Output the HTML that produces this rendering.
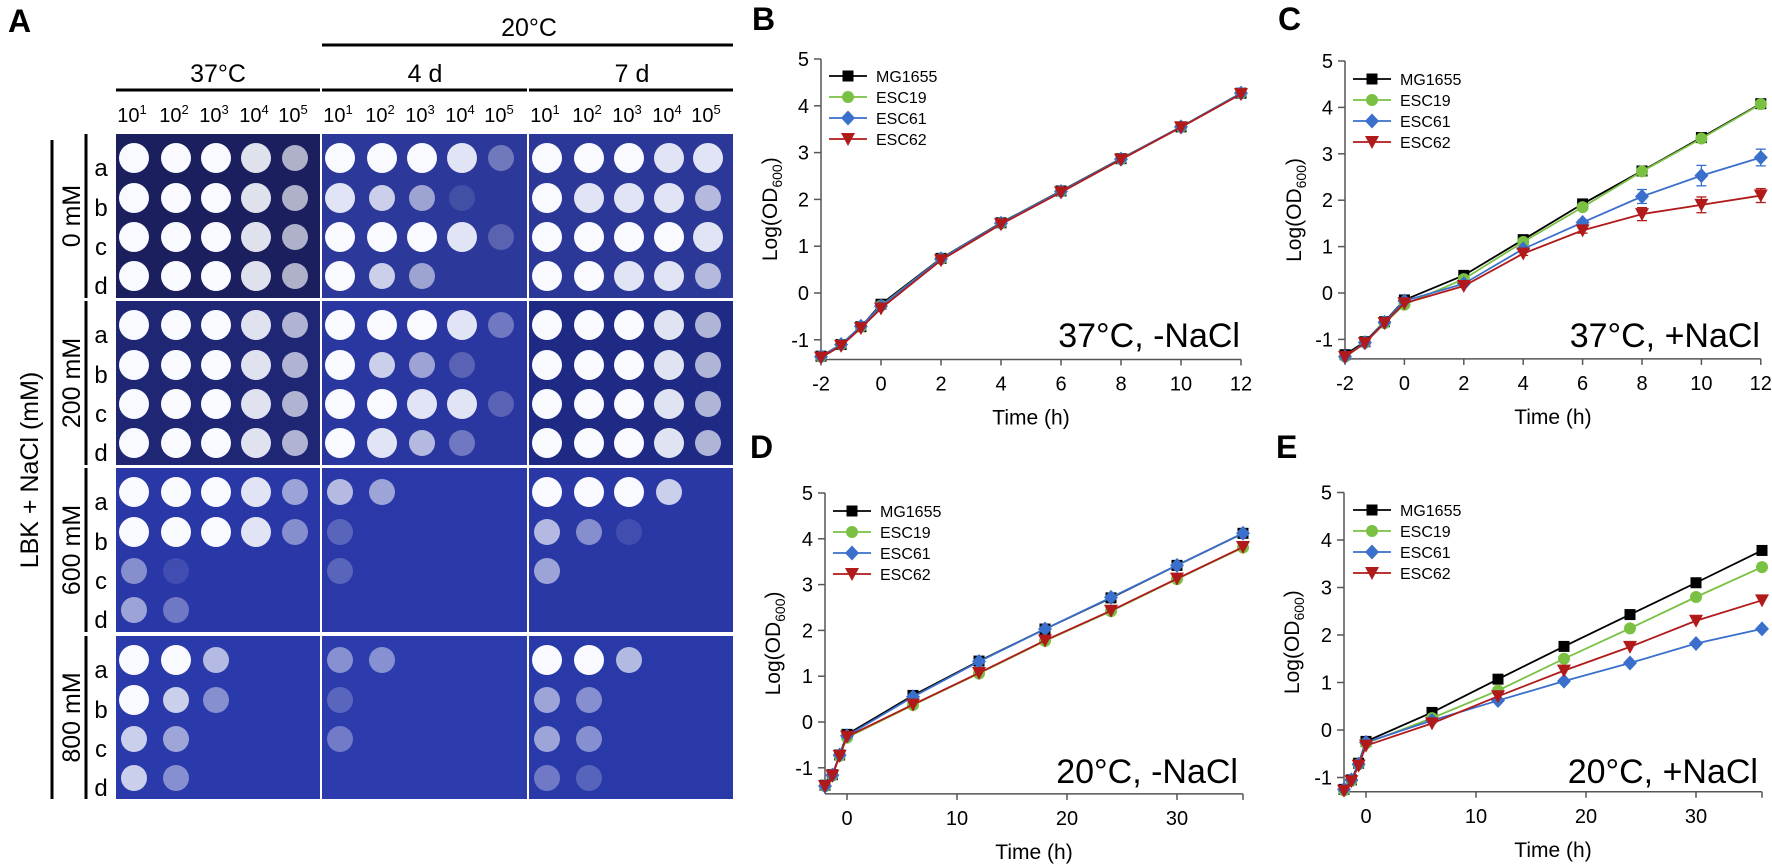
<!DOCTYPE html>
<html><head><meta charset="utf-8">
<style>
html,body{margin:0;padding:0;background:#fff;}
svg{display:block;font-family:"Liberation Sans",Arial,sans-serif;}
</style></head>
<body>
<svg id="fig" width="1772" height="866" viewBox="0 0 1772 866" xmlns="http://www.w3.org/2000/svg">
<g id="panelA">
<text x="8" y="32" font-size="32" font-weight="bold">A</text>
<text x="529" y="36" font-size="25" text-anchor="middle">20°C</text>
<line x1="322" y1="45" x2="733" y2="45" stroke="#000" stroke-width="3"/>
<text x="218" y="82" font-size="25" text-anchor="middle">37°C</text>
<text x="425" y="82" font-size="25" text-anchor="middle">4 d</text>
<text x="632" y="82" font-size="25" text-anchor="middle">7 d</text>
<line x1="116" y1="90" x2="320" y2="90" stroke="#000" stroke-width="3"/>
<line x1="322" y1="90" x2="527" y2="90" stroke="#000" stroke-width="3"/>
<line x1="529" y1="90" x2="733" y2="90" stroke="#000" stroke-width="3"/>
<text transform="translate(38,470) rotate(-90)" font-size="25" text-anchor="middle">LBK + NaCl (mM)</text>
<line x1="52" y1="140" x2="52" y2="799" stroke="#000" stroke-width="3"/>
</g>
<g id="charts"></g>
</svg>
<script>
const NS="http://www.w3.org/2000/svg";
const svg=document.getElementById('fig');
const gA=document.getElementById('panelA');
const gC=document.getElementById('charts');
function mk(tag,attrs,parent){const e=document.createElementNS(NS,tag);for(const k in attrs)e.setAttribute(k,attrs[k]);parent.appendChild(e);return e;}

// ---------- Panel A data ----------
const concLabels=["0 mM","200 mM","600 mM","800 mM"];
const conditions=["37c","4d","7d"];
const dilutions=["1","2","3","4","5"];
const strainRows=["a","b","c","d"];
const spot0mM=[["99986","99986","99986","99986"],["99983","87510","99982","97500"],["99988","98886","99998","99886"]];
const spot200mM=[["99986","99986","99986","99986"],["99983","97520","99882","98630"],["99986","99986","99986","99986"]];
const spot600mM=[["99985","99984","41000","53000"],["65000","20000","20000","00000"],["99970","64100","50000","00000"]];
const spot800mM=[["99600","97400","75000","74000"],["44000","20000","30000","00000"],["99600","54000","54000","32000"]];
const spotData=[spot0mM,spot200mM,spot600mM,spot800mM];
const plateBg=[["#1b1f5e","#2c389a","#2c3898"],["#1f2674","#2b37a0","#1e2a84"],["#2a37a6","#2b39a8","#2a38a6"],["#2b3aaa","#2d3cac","#2a39a8"]];

const plateX=[116,322,529], plateW=[204,205,204];
const plateY=[134,301,468,636], plateH=[164,164,164,163];
const spotDx=[18,60,100,140,179], spotDy=[24,64,103,142];

// dilution header
conditions.forEach((c,ci)=>{
  dilutions.forEach((d,di)=>{
    const t=mk('text',{x:plateX[ci]+spotDx[di]-2,y:122,'font-size':20,'text-anchor':'middle'},gA);
    
    
    t.textContent='10';
    const s=mk('tspan',{dy:-8,'font-size':13},t);s.textContent=d;
  });
});
function mix(hex,v){const r=parseInt(hex.slice(1,3),16),g=parseInt(hex.slice(3,5),16),b=parseInt(hex.slice(5,7),16);
  const f=v/9;return `rgb(${Math.round(r+(248-r)*f)},${Math.round(g+(250-g)*f)},${Math.round(b+(255-b)*f)})`;}
concLabels.forEach((cl,ri)=>{
  const y0=plateY[ri],h=plateH[ri];
  const br=mk('line',{x1:86,y1:y0,x2:86,y2:y0+h,stroke:'#000','stroke-width':3},gA);
  
  
  const lt=mk('text',{transform:`translate(80,${y0+h/2}) rotate(-90)`,'font-size':25,'text-anchor':'middle'},gA);
  
  
  lt.textContent=cl;
  strainRows.forEach((s,si)=>{
    const t=mk('text',{x:101,y:y0+spotDy[si]+18,'font-size':24,'text-anchor':'middle'},gA);
    
    
    t.textContent=s;
  });
  conditions.forEach((c,ci)=>{
    const p=mk('rect',{x:plateX[ci],y:y0,width:plateW[ci],height:h,fill:plateBg[ri][ci]},gA);
    
    
    spotData[ri][ci].forEach((row,si)=>{
      for(let di=0;di<5;di++){
        const v=+row[di]; if(v===0) continue;
        const c1=mk('circle',{cx:plateX[ci]+spotDx[di],cy:y0+spotDy[si],r:v>=8?15:13,fill:mix(plateBg[ri][ci],v)},gA);
        
        
      }
    });
  });
});

// ---------- Chart data ----------
const seriesNames=["MG1655","ESC19","ESC61","ESC62"];
const seriesColors=["#000000","#7ac143","#3a6fcc","#b01a1a"];
const markers=["square","circle","diamond","tri"];
const timeShort=[-2,-1.33,-0.67,0,2,4,6,8,10,12];
const timeLong=[-2,-1.33,-0.67,0,6,12,18,24,30,36];
const ticksShort=[-2,0,2,4,6,8,10,12];
const ticksLong=[0,10,20,30];
const yTicks=[-1,0,1,2,3,4,5];

const bMG=[-1.35,-1.1,-0.72,-0.24,0.74,1.5,2.18,2.87,3.55,4.27];
const b19=[-1.36,-1.1,-0.72,-0.27,0.73,1.49,2.17,2.86,3.55,4.27];
const b61=[-1.36,-1.1,-0.71,-0.28,0.73,1.49,2.17,2.86,3.55,4.27];
const b62=[-1.38,-1.13,-0.75,-0.33,0.7,1.47,2.15,2.85,3.54,4.25];

const cMG=[-1.33,-1.05,-0.62,-0.15,0.38,1.15,1.92,2.63,3.35,4.08];
const c19=[-1.37,-1.07,-0.65,-0.25,0.3,1.1,1.85,2.62,3.33,4.07];
const c61=[-1.37,-1.07,-0.63,-0.17,0.2,0.95,1.52,2.08,2.53,2.92];
const c62=[-1.38,-1.08,-0.65,-0.22,0.15,0.85,1.35,1.7,1.9,2.1];
const c61err=[0,0,0,0,0,0,0.05,0.15,0.22,0.18];
const c62err=[0,0,0,0,0,0.04,0.06,0.14,0.17,0.15];

const dMG=[-1.38,-1.15,-0.72,-0.27,0.58,1.33,2.03,2.71,3.42,4.12];
const d19=[-1.4,-1.17,-0.74,-0.34,0.37,1.06,1.77,2.42,3.12,3.81];
const d61=[-1.4,-1.16,-0.72,-0.3,0.55,1.32,2.03,2.72,3.42,4.12];
const d62=[-1.4,-1.17,-0.74,-0.32,0.38,1.07,1.78,2.43,3.13,3.82];

const eMG=[-1.25,-1.05,-0.7,-0.24,0.37,1.07,1.76,2.43,3.1,3.78];
const e19=[-1.27,-1.07,-0.72,-0.28,0.25,0.83,1.5,2.14,2.8,3.43];
const e61=[-1.25,-1.05,-0.72,-0.26,0.2,0.62,1.03,1.41,1.82,2.13];
const e62=[-1.28,-1.08,-0.75,-0.33,0.14,0.71,1.25,1.75,2.3,2.73];

const panels=[
 {id:'b',letter:'B',lx:752,ly:30,ax:821,xmin:-2,xmax:12,pxX:30,y0:293,pxY:46.8,ymin:-1.42,times:timeShort,ticks:ticksShort,series:[bMG,b19,b61,b62],err:null,legX:829,legY:76,title:'37°C, -NaCl',tx:1240,ty:347,ylx:770},
 {id:'c',letter:'C',lx:1278,ly:30,ax:1345,xmin:-2,xmax:12,pxX:29.7,y0:293,pxY:46.4,ymin:-1.42,times:timeShort,ticks:ticksShort,series:[cMG,c19,c61,c62],err:[null,null,c61err,c62err],legX:1353,legY:79,title:'37°C, +NaCl',tx:1760,ty:347,ylx:1294},
 {id:'d',letter:'D',lx:750,ly:458,ax:825,xmin:-2,xmax:36,pxX:11,y0:722,pxY:45.8,ymin:-1.57,times:timeLong,ticks:ticksLong,series:[dMG,d19,d61,d62],err:null,legX:833,legY:511,title:'20°C, -NaCl',tx:1238,ty:783,ylx:773},
 {id:'e',letter:'E',lx:1276,ly:458,ax:1344,xmin:-2,xmax:36,pxX:11,y0:730,pxY:47.5,ymin:-1.3,times:timeLong,ticks:ticksLong,series:[eMG,e19,e61,e62],err:null,legX:1353,legY:510,title:'20°C, +NaCl',tx:1758,ty:783,ylx:1292}
];

function marker(g,type,x,y,color){
  let e;
  if(type==='square') e=mk('rect',{x:x-5.5,y:y-5.5,width:11,height:11,fill:color},g);
  else if(type==='circle') e=mk('circle',{cx:x,cy:y,r:6,fill:color},g);
  else if(type==='diamond') e=mk('polygon',{points:`${x},${y-7.5} ${x+7},${y} ${x},${y+7.5} ${x-7},${y}`,fill:color},g);
  else e=mk('polygon',{points:`${x-7},${y-6} ${x+7},${y-6} ${x},${y+7}`,fill:color},g);
  return e;
}

panels.forEach(P=>{
  const g=mk('g',{},gC);
  
  
  const X=t=>P.ax+(t-P.xmin)*P.pxX;
  const Y=v=>P.y0-v*P.pxY;
  const axisY=Y(P.ymin), top=Y(5);
  const lt=mk('text',{x:P.lx,y:P.ly,'font-size':32,'font-weight':'bold'},g);
  
  
  lt.textContent=P.letter;
  const ya=mk('line',{x1:P.ax,y1:top,x2:P.ax,y2:axisY,stroke:'#555','stroke-width':1.5},g);
  
  
  const xa=mk('line',{x1:P.ax,y1:axisY,x2:X(P.xmax),y2:axisY,stroke:'#555','stroke-width':1.5},g);
  
  
  yTicks.forEach(v=>{
    mk('line',{x1:P.ax-7,y1:Y(v),x2:P.ax,y2:Y(v),stroke:'#555','stroke-width':1.5},g);
    const t=mk('text',{x:P.ax-12,y:Y(v)+7,'font-size':20,'text-anchor':'end'},g);
    
    
    t.textContent=v;
  });
  P.ticks.forEach(v=>{
    mk('line',{x1:X(v),y1:axisY,x2:X(v),y2:axisY+6,stroke:'#555','stroke-width':1.5},g);
    const t=mk('text',{x:X(v),y:axisY+31,'font-size':20,'text-anchor':'middle'},g);
    
    
    t.textContent=v;
  });
  if(P.ticks===ticksLong) mk('line',{x1:X(36),y1:axisY,x2:X(36),y2:axisY+6,stroke:'#555','stroke-width':1.5},g);
  const xt=mk('text',{x:(P.ax+X(P.xmax))/2,y:axisY+65,'font-size':21,'text-anchor':'middle'},g);
  
  
  xt.textContent='Time (h)';
  const yt=mk('text',{transform:`translate(${P.ylx+7},${(top+axisY)/2}) rotate(-90)`,'font-size':21,'text-anchor':'middle'},g);
  
  
  yt.textContent='Log(OD';
  const sub=mk('tspan',{dy:5,'font-size':14},yt);sub.textContent='600';
  const cl=mk('tspan',{dy:-5},yt);cl.textContent=')';
  const an=mk('text',{x:P.tx,y:P.ty,'font-size':34,'text-anchor':'end'},g);
  
  
  an.textContent=P.title;
  P.series.forEach((vals,si)=>{
    const sg=mk('g',{},g);
    
    
    const pts=vals.map((v,i)=>X(P.times[i])+','+Y(v)).join(' ');
    const pl=mk('polyline',{points:pts,fill:'none',stroke:seriesColors[si],'stroke-width':1.8},sg);
    
    
    if(P.err&&P.err[si]){
      P.err[si].forEach((e,i)=>{ if(!e) return;
        const x=X(P.times[i]),y1=Y(vals[i]+e),y2=Y(vals[i]-e);
        mk('line',{x1:x,y1:y1,x2:x,y2:y2,stroke:seriesColors[si],'stroke-width':1.3},sg);
        mk('line',{x1:x-5,y1:y1,x2:x+5,y2:y1,stroke:seriesColors[si],'stroke-width':1.3},sg);
        mk('line',{x1:x-5,y1:y2,x2:x+5,y2:y2,stroke:seriesColors[si],'stroke-width':1.3},sg);
      });
    }
    vals.forEach((v,i)=>{
      const m=marker(sg,markers[si],X(P.times[i]),Y(v),seriesColors[si]);
      
      
    });
    const ly=P.legY+si*21;
    const le=mk('g',{},g);
    
    
    mk('line',{x1:P.legX,y1:ly,x2:P.legX+38,y2:ly,stroke:seriesColors[si],'stroke-width':1.8},le);
    marker(le,markers[si],P.legX+19,ly,seriesColors[si]);
    const tx=mk('text',{x:P.legX+47,y:ly+6,'font-size':16},le);
    tx.textContent=seriesNames[si];
  });
});
</script>
</body></html>
